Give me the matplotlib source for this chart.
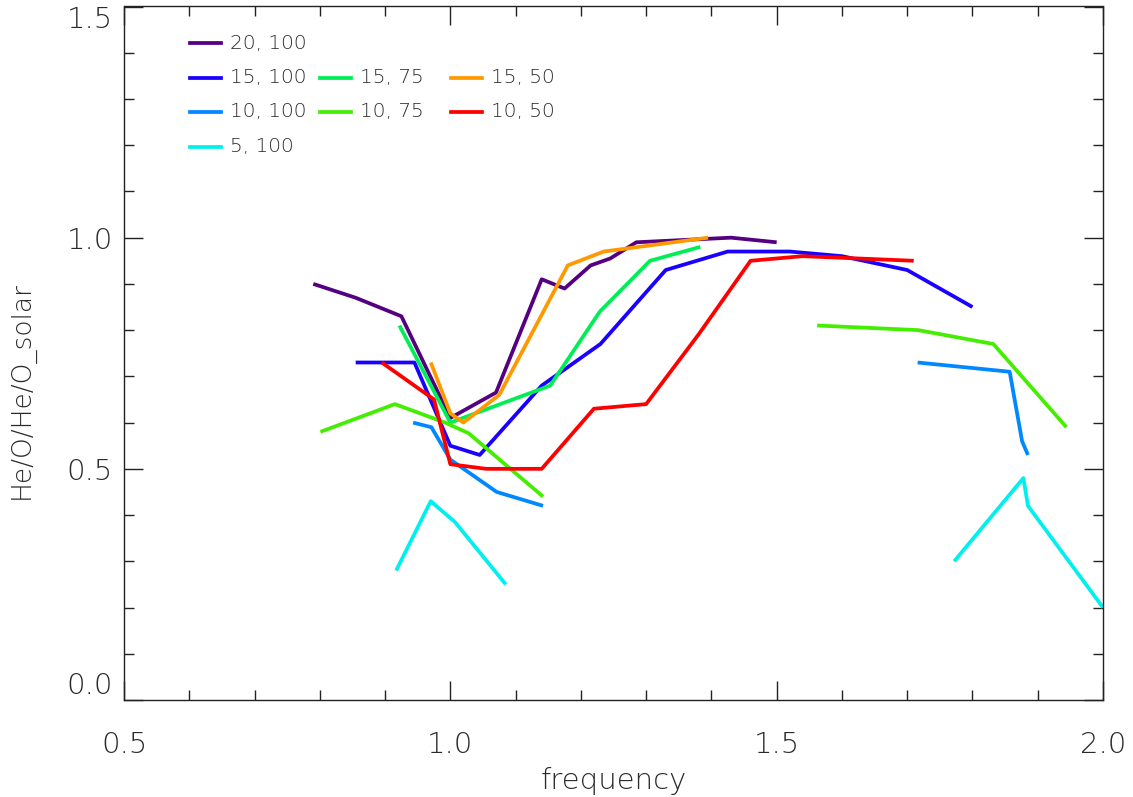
import numpy as np
import matplotlib.pyplot as plt
from matplotlib.ticker import MultipleLocator

nan = np.nan

# frequency / abundance ratio pairs for each run (label = "x, y")
x_20_100 = [0.79, 0.855, 0.925, 1.0, 1.07, 1.14, 1.175, 1.215, 1.245, 1.285, 1.43, 1.50]
y_20_100 = [0.90, 0.87, 0.83, 0.61, 0.665, 0.91, 0.89, 0.94, 0.955, 0.99, 1.0, 0.99]

x_15_100 = [0.855, 0.945, 1.0, 1.045, 1.14, 1.23, 1.33, 1.425, 1.52, 1.6, 1.7, 1.80]
y_15_100 = [0.73, 0.73, 0.55, 0.53, 0.68, 0.77, 0.93, 0.97, 0.97, 0.96, 0.93, 0.85]

x_10_100 = [0.943, 0.971, 1.0, 1.071, 1.142, nan, 1.716, 1.857, 1.876, 1.885]
y_10_100 = [0.60, 0.59, 0.52, 0.45, 0.42, nan, 0.73, 0.71, 0.56, 0.53]

x_5_100 = [0.917, 0.970, 1.007, 1.085, nan, 1.772, 1.878, 1.885, 2.0]
y_5_100 = [0.28, 0.43, 0.385, 0.25, nan, 0.30, 0.48, 0.42, 0.20]

x_15_75 = [0.922, 1.0, 1.153, 1.229, 1.306, 1.383]
y_15_75 = [0.81, 0.60, 0.68, 0.84, 0.95, 0.98]

x_10_75 = [0.801, 0.915, 0.992, 1.028, 1.142, nan, 1.562, 1.717, 1.832, 1.944]
y_10_75 = [0.58, 0.64, 0.60, 0.577, 0.44, nan, 0.81, 0.80, 0.77, 0.59]

x_15_50 = [0.97, 1.0, 1.02, 1.075, 1.18, 1.235, 1.395]
y_15_50 = [0.73, 0.62, 0.60, 0.66, 0.94, 0.97, 1.0]

x_10_50 = [0.895, 0.975, 1.0, 1.055, 1.14, 1.22, 1.30, 1.38, 1.46, 1.54, 1.71]
y_10_50 = [0.73, 0.65, 0.51, 0.50, 0.50, 0.63, 0.64, 0.79, 0.95, 0.96, 0.95]

series = [
    ("20, 100", x_20_100, y_20_100, "#550080"),
    ("15, 100", x_15_100, y_15_100, "#1a00ff"),
    ("10, 100", x_10_100, y_10_100, "#0088ff"),
    ("5, 100", x_5_100, y_5_100, "#00f0f0"),
    ("15, 75", x_15_75, y_15_75, "#00ee55"),
    ("10, 75", x_10_75, y_10_75, "#44ee00"),
    ("15, 50", x_15_50, y_15_50, "#ff9900"),
    ("10, 50", x_10_50, y_10_50, "#ff0000"),
]

# legend slots (column, row) like the IDL layout
legend_slots = [(0, 0), (0, 1), (0, 2), (0, 3), (1, 1), (1, 2), (2, 1), (2, 2)]

plt.rcParams['font.family'] = 'DejaVu Sans'
txt = '#2a2a2a'

fig = plt.figure(figsize=(11.33, 7.97), dpi=100)
ax = fig.add_axes([124 / 1133, 1 - 700 / 797, 979 / 1133, 693.5 / 797])

for (label, xs, ys, c) in series:
    ax.plot(xs, ys, color=c, lw=2.7, solid_capstyle='butt')

# hand-placed legend
col_x = [0.067, 0.2, 0.334]
row_y = [0.947, 0.897, 0.848, 0.798]
for (label, xs, ys, c), (ci, ri) in zip(series, legend_slots):
    x0 = col_x[ci]
    ax.plot([x0, x0 + 0.032], [row_y[ri], row_y[ri]], color=c, lw=2.7,
            transform=ax.transAxes)
    ax.text(x0 + 0.041, row_y[ri], label, transform=ax.transAxes,
            fontsize=14.5, color=txt, va='center', ha='left', fontweight=200)

ax.set_xlim(0.5, 2.0)
ax.set_ylim(0.0, 1.5)
ax.xaxis.set_major_locator(MultipleLocator(0.5))
ax.xaxis.set_minor_locator(MultipleLocator(0.1))
ax.yaxis.set_major_locator(MultipleLocator(0.5))
ax.yaxis.set_minor_locator(MultipleLocator(0.1))
ax.xaxis.set_major_formatter(plt.FormatStrFormatter('%.1f'))
ax.yaxis.set_major_formatter(plt.FormatStrFormatter('%.1f'))

ax.tick_params(which='both', direction='in', top=True, right=True,
               color='#222222', width=1)
ax.tick_params(which='major', length=14)
ax.tick_params(which='minor', length=7)
ax.tick_params(axis='x', which='major', pad=22, labelsize=21, labelcolor=txt)
ax.tick_params(axis='y', which='major', pad=8, labelsize=21, labelcolor=txt)

fig.canvas.draw()
for lab in ax.get_xticklabels() + ax.get_yticklabels():
    lab.set_fontweight(200)
    if lab.get_text() == '0.0' and lab in ax.get_yticklabels():
        lab.set_va('bottom')
    if lab.get_text() == '1.5' and lab in ax.get_yticklabels():
        lab.set_va('top')

for s in ax.spines.values():
    s.set_linewidth(1)
    s.set_color('#222222')

ax.set_xlabel("frequency", fontsize=21, color=txt, fontweight=200, labelpad=6)
ax.set_ylabel("He/O/He/O_solar", fontsize=19, color=txt, fontweight=200,
              va='center')
ax.yaxis.set_label_coords(-0.104, 0.447)

fig.savefig("out.png", dpi=100)
